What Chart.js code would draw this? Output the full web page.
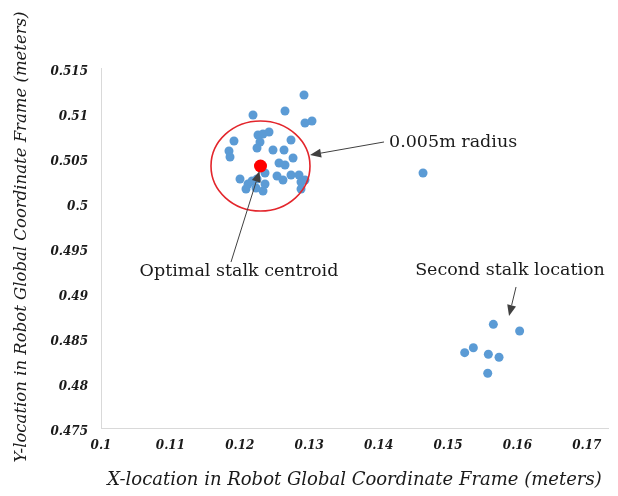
<!DOCTYPE html>
<html>
<head>
<meta charset="utf-8">
<script src="https://cdn.jsdelivr.net/npm/chart.js@4/dist/chart.umd.min.js"></script>
<style>
  html, body { margin: 0; padding: 0; background: #ffffff; }
  canvas { display: block; }
</style>
</head>
<body>
<canvas id="chart" width="618" height="496"></canvas>
<script>
// Detections of the first stalk (meters, robot global frame)
const stalkX = [0.12925, 0.12651, 0.12190, 0.12939, 0.13040, 0.12262, 0.12334, 0.12421,
  0.11916, 0.12291, 0.12738, 0.11844, 0.11859, 0.12248, 0.12478, 0.12637, 0.12767,
  0.12565, 0.12651, 0.12003, 0.12118, 0.12176, 0.12089, 0.12248, 0.12363, 0.12233,
  0.12536, 0.12622, 0.12738, 0.12853, 0.12882, 0.12939, 0.12882, 0.12334, 0.12363,
  0.14640];
const stalkY = [0.51200, 0.51022, 0.50978, 0.50889, 0.50911, 0.50756, 0.50767, 0.50789,
  0.50689, 0.50678, 0.50700, 0.50578, 0.50511, 0.50611, 0.50589, 0.50589, 0.50500,
  0.50444, 0.50422, 0.50267, 0.50211, 0.50244, 0.50156, 0.50267, 0.50211, 0.50167,
  0.50300, 0.50256, 0.50311, 0.50311, 0.50233, 0.50256, 0.50156, 0.50133, 0.50333,
  0.50333];

// Detections of the second stalk
const secondX = [0.15653, 0.16032, 0.15365, 0.15240, 0.15581, 0.15735, 0.15572];
const secondY = [0.48652, 0.48578, 0.48392, 0.48337, 0.48319, 0.48286, 0.48108];

// Optimal stalk centroid and the radius drawn around it
const centroidX = [0.12298];
const centroidY = [0.50411];
const radiusM = 0.005;

// Axis ticks
const xTicks = [0.1, 0.11, 0.12, 0.13, 0.14, 0.15, 0.16, 0.17];
const xTickLabels = ['0.1', '0.11', '0.12', '0.13', '0.14', '0.15', '0.16', '0.17'];
const yTicks = [0.475, 0.48, 0.485, 0.49, 0.495, 0.5, 0.505, 0.51, 0.515];
const yTickLabels = ['0.475', '0.48', '0.485', '0.49', '0.495', '0.5', '0.505', '0.51', '0.515'];

// Axis titles
const xTitle = 'X-location in Robot Global Coordinate Frame (meters)';
const yTitle = 'Y-location in Robot Global Coordinate Frame (meters)';

// Callout texts and arrows (data coordinates)
const noteTexts = ['0.005m radius', 'Optimal stalk centroid', 'Second stalk location'];
const noteX = [0.14150, 0.11988, 0.15893];
const noteY = [0.50678, 0.49244, 0.49256];
const noteAlign = ['left', 'center', 'center'];
const arrowFromX = [0.14078, 0.11873, 0.15980];
const arrowFromY = [0.50678, 0.49344, 0.49067];
const arrowToX = [0.13012, 0.12284, 0.15879];
const arrowToY = [0.50533, 0.50356, 0.48744];

const toPoints = (xs, ys) => xs.map((v, i) => ({ x: v, y: ys[i] }));

const serif = '"DejaVu Serif", "Liberation Serif", serif';

const callouts = {
  id: 'callouts',
  afterDatasetsDraw(chart) {
    const { ctx, scales: { x, y } } = chart;
    ctx.save();

    // radius ring around the centroid
    const cx = x.getPixelForValue(centroidX[0]);
    const cy = y.getPixelForValue(centroidY[0]);
    const ry = Math.abs(y.getPixelForValue(centroidY[0] + radiusM) - cy);
    const rx = ry * 1.1;
    ctx.beginPath();
    ctx.ellipse(cx, cy, rx, ry, 0, 0, Math.PI * 2);
    ctx.strokeStyle = '#e3262c';
    ctx.lineWidth = 1.6;
    ctx.stroke();

    // arrows
    ctx.strokeStyle = '#404040';
    ctx.fillStyle = '#404040';
    ctx.lineWidth = 1;
    for (let i = 0; i < arrowFromX.length; i++) {
      const x0 = x.getPixelForValue(arrowFromX[i]);
      const y0 = y.getPixelForValue(arrowFromY[i]);
      const x1 = x.getPixelForValue(arrowToX[i]);
      const y1 = y.getPixelForValue(arrowToY[i]);
      const ang = Math.atan2(y1 - y0, x1 - x0);
      const headLen = 11, headHalf = 4.5;
      const bx = x1 - headLen * Math.cos(ang);
      const by = y1 - headLen * Math.sin(ang);
      ctx.beginPath();
      ctx.moveTo(x0, y0);
      ctx.lineTo(bx, by);
      ctx.stroke();
      ctx.beginPath();
      ctx.moveTo(x1, y1);
      ctx.lineTo(bx + headHalf * Math.sin(ang), by - headHalf * Math.cos(ang));
      ctx.lineTo(bx - headHalf * Math.sin(ang), by + headHalf * Math.cos(ang));
      ctx.closePath();
      ctx.fill();
    }

    // texts
    ctx.font = '17.5px ' + serif;
    ctx.fillStyle = '#1a1a1a';
    ctx.textBaseline = 'middle';
    for (let i = 0; i < noteTexts.length; i++) {
      ctx.textAlign = noteAlign[i];
      ctx.fillText(noteTexts[i], x.getPixelForValue(noteX[i]), y.getPixelForValue(noteY[i]));
    }
    ctx.restore();
  },
  afterDraw(chart) {
    // vertical axis title, centred a little above the plot middle
    const { ctx, chartArea } = chart;
    ctx.save();
    ctx.translate(22, (chartArea.top + chartArea.bottom) / 2 - 11);
    ctx.rotate(-Math.PI / 2);
    ctx.font = 'italic 16.5px ' + serif;
    ctx.fillStyle = '#1a1a1a';
    ctx.textAlign = 'center';
    ctx.textBaseline = 'middle';
    ctx.fillText(yTitle, 0, 0);
    ctx.restore();
  }
};

new Chart(document.getElementById('chart'), {
  type: 'scatter',
  data: {
    datasets: [
      {
        label: 'Optimal stalk centroid',
        data: toPoints(centroidX, centroidY),
        backgroundColor: '#ff0000',
        borderWidth: 0,
        pointRadius: 6.5,
        pointHoverRadius: 6.5
      },
      {
        label: 'Stalk detections',
        data: toPoints(stalkX, stalkY),
        backgroundColor: '#5b9bd5',
        borderWidth: 0,
        pointRadius: 4.5,
        pointHoverRadius: 4.5
      },
      {
        label: 'Second stalk detections',
        data: toPoints(secondX, secondY),
        backgroundColor: '#5b9bd5',
        borderWidth: 0,
        pointRadius: 4.5,
        pointHoverRadius: 4.5
      }
    ]
  },
  options: {
    responsive: false,
    animation: false,
    layout: { padding: { top: 68, right: 10, left: 0, bottom: 0 } },
    plugins: {
      legend: { display: false },
      tooltip: { enabled: false }
    },
    scales: {
      x: {
        type: 'linear',
        min: 0.1,
        max: 0.17305,
        afterBuildTicks(scale) { scale.ticks = xTicks.map(v => ({ value: v })); },
        afterFit(scale) { scale.height = 68; },
        grid: { display: false, drawTicks: false, tickLength: 0 },
        border: { display: true, color: '#d9d9d9', width: 1 },
        ticks: {
          padding: 11,
          maxRotation: 0,
          autoSkip: false,
          color: '#1a1a1a',
          font: { family: serif, size: 12, style: 'italic', weight: 'bold' },
          callback: (v) => xTickLabels[xTicks.indexOf(v)] ?? ''
        },
        title: {
          display: true,
          text: xTitle,
          color: '#1a1a1a',
          font: { family: serif, size: 18, style: 'italic' },
          padding: { top: 0, bottom: 5 }
        }
      },
      y: {
        type: 'linear',
        min: 0.475,
        max: 0.515,
        afterBuildTicks(scale) { scale.ticks = yTicks.map(v => ({ value: v })); },
        afterFit(scale) { scale.width = 101; },
        grid: { display: false, drawTicks: false, tickLength: 0 },
        border: { display: true, color: '#d9d9d9', width: 1 },
        ticks: {
          padding: 13,
          labelOffset: 4,
          autoSkip: false,
          color: '#1a1a1a',
          font: { family: serif, size: 12, style: 'italic', weight: 'bold' },
          callback: (v) => yTickLabels[yTicks.indexOf(v)] ?? ''
        },
        title: { display: false }
      }
    }
  },
  plugins: [callouts]
});
</script>
</body>
</html>
